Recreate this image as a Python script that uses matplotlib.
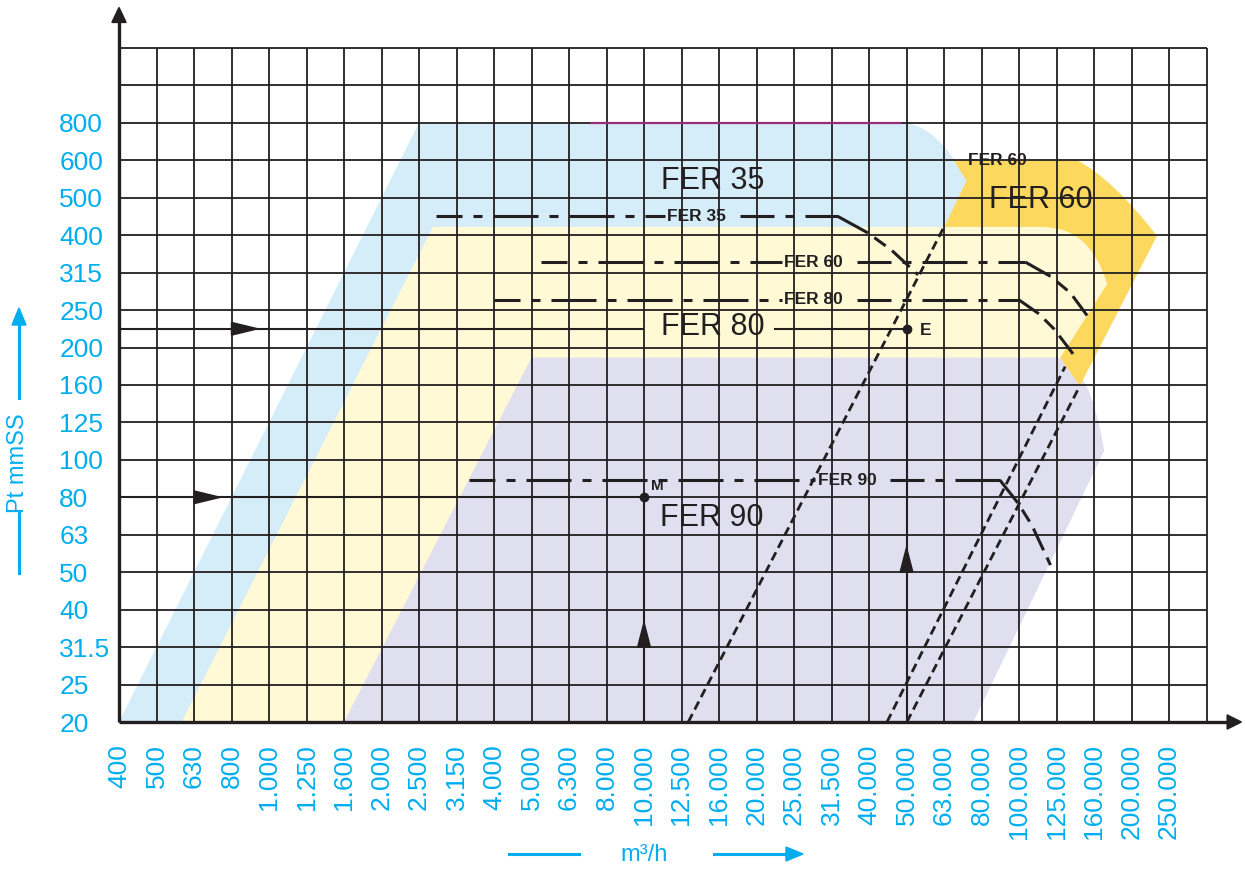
import matplotlib
matplotlib.use('Agg')
import matplotlib.pyplot as plt
from matplotlib.path import Path
from matplotlib.patches import PathPatch, Polygon
from matplotlib.lines import Line2D

plt.rcParams['font.family'] = ['Liberation Sans', 'DejaVu Sans']
plt.rcParams['lines.scale_dashes'] = False

# ---------------- data (grid-class coordinates) ----------------
x_labels = ['400', '500', '630', '800', '1.000', '1.250', '1.600', '2.000', '2.500',
            '3.150', '4.000', '5.000', '6.300', '8.000', '10.000', '12.500', '16.000',
            '20.000', '25.000', '31.500', '40.000', '50.000', '63.000', '80.000',
            '100.000', '125.000', '160.000', '200.000', '250.000']
y_labels = ['20', '25', '31.5', '40', '50', '63', '80', '100', '125', '160', '200',
            '250', '315', '400', '500', '600', '800']

# working areas: ('L', x, y) line-to, ('Q', cx, cy, x, y) curve-to
fer35_area = [('L', 0, 0), ('L', 8, 16), ('L', 20.84, 16), ('Q', 21.8, 16, 22.6, 14.45),
              ('L', 22.0, 13.22), ('L', 1.63, 0)]
fer80_area = [('L', 1.67, 0), ('L', 8.37, 13.22), ('L', 24.62, 13.22),
              ('Q', 25.9, 13.22, 26.35, 11.69), ('L', 25.1, 9.73), ('L', 6.0, 0)]
fer90_area = [('L', 6.0, 0), ('L', 11.0, 9.73), ('L', 25.0, 9.73),
              ('Q', 25.9, 9.6, 26.27, 7.24), ('L', 22.78, 0)]
fer60_area = [('L', 22.26, 15.0), ('L', 25.55, 15.0), ('Q', 26.5, 14.5, 27.68, 12.98),
              ('L', 25.62, 8.97), ('L', 25.1, 9.73), ('L', 26.35, 11.69),
              ('Q', 25.9, 13.22, 24.62, 13.22), ('L', 22.0, 13.22), ('L', 22.6, 14.45)]

# fan curves
curve_names = ['FER 35', 'FER 60', 'FER 80', 'FER 90']
curve_y = [13.5, 12.28, 11.27, 6.46]
curve_x_start = [8.45, 11.25, 10.0, 9.33]
curve_x_bend = [19.17, 24.17, 24.0, 23.49]
curve_knee = [(19.97, 13.06), (24.84, 11.9), (24.53, 10.9), (23.97, 5.85)]
curve_mid = [(20.6, 12.6), (25.37, 11.46), (24.93, 10.5), (24.34, 5.26)]
curve_end = [(21.31, 11.94), (25.9, 10.74), (25.44, 9.83), (24.84, 4.19)]
curve_label_x = [15.41, 18.53, 18.53, 19.41]

# system (duct) lines
system_start = [(15.18, 0), (20.48, 0), (21.01, 0)]
system_end = [(22.0, 13.22), (25.23, 9.49), (25.62, 8.97)]

# operating points
point_names = ['E', 'M']
point_x = [21, 14]
point_y = [10.5, 6]
point_harrow_x = [3, 2]
point_varrow_y = [4, 2]

# big area labels
area_names = ['FER 35', 'FER 60', 'FER 80', 'FER 90']
area_label_x = [15.84, 24.59, 15.83, 15.81]
area_label_y = [14.45, 13.95, 10.55, 5.46]

# ---------------- styles ----------------
INK = '#231f20'
BLUE = '#00aeef'
C35 = '#d5ecf9'
C80 = '#fffad5'
C90 = '#dfdff0'
C60 = '#fcd85e'
PX = 0.72  # points per pixel


def area_path(spec):
    verts, codes = [], []
    for i, s in enumerate(spec):
        if s[0] == 'L':
            verts.append((s[1], s[2]))
            codes.append(Path.MOVETO if i == 0 else Path.LINETO)
        else:
            verts += [(s[1], s[2]), (s[3], s[4])]
            codes += [Path.CURVE3, Path.CURVE3]
    verts.append(verts[0])
    codes.append(Path.CLOSEPOLY)
    return Path(verts, codes)


fig = plt.figure(figsize=(12.45, 8.71), dpi=100)
ax = fig.add_axes([119 / 1245, 149 / 871, 1126 / 1245, 722 / 871])
ax.set_xlim(0, 1126 / 37.5)
ax.set_ylim(0, 722 / 37.45)
for s in ax.spines.values():
    s.set_visible(False)

ax.set_xticks(range(len(x_labels)), x_labels, rotation=90, va='top', ha='center',
              fontsize=19, color=BLUE)
ax.set_yticks(range(len(y_labels)), y_labels, ha='left', fontsize=19, color=BLUE)
ax.tick_params(axis='x', length=0, pad=16)
ax.tick_params(axis='y', length=0, pad=43)

# areas
for spec, col in [(fer35_area, C35), (fer80_area, C80), (fer90_area, C90), (fer60_area, C60)]:
    ax.add_patch(PathPatch(area_path(spec), facecolor=col, edgecolor='none', zorder=1))

# grid
ncols = len(x_labels) + 1
nrows = len(y_labels) + 2
ax.vlines(range(ncols), 0, nrows - 1, color=INK, lw=1.3, zorder=2)
ax.hlines(range(nrows), 0, ncols - 1, color=INK, lw=1.3, zorder=2)
ax.hlines(len(y_labels) - 1, 12.56, 20.84, color='#9a2a7a', lw=1.6, zorder=2.1)

# axes with arrows
ax.plot([0, 0], [0, 18.75], color=INK, lw=2.4, zorder=3, clip_on=False, solid_capstyle='butt')
ax.plot([0, 29.6], [0, 0], color=INK, lw=2.4, zorder=3, clip_on=False, solid_capstyle='butt')
ax.add_patch(Polygon([(-0.19, 18.68), (0.19, 18.68), (0, 19.08)], closed=True,
                     color=INK, zorder=3, clip_on=False))
ax.add_patch(Polygon([(29.55, 0.19), (29.55, -0.19), (29.93, 0)], closed=True,
                     color=INK, zorder=3, clip_on=False))

# system lines
for (x0, y0), (x1, y1) in zip(system_start, system_end):
    ax.plot([x0, x1], [y0, y1], color=INK, lw=2.0, zorder=3,
            linestyle=(0, (9 * PX, 5 * PX)))

# fan curves
dashdot = (45 * PX, 11 * PX, 9 * PX, 11 * PX)
tail = (24 * PX, 8 * PX, 14 * PX, 8 * PX)
for i, name in enumerate(curve_names):
    y = curve_y[i]
    lx = curve_label_x[i]
    ax.plot([curve_x_start[i], lx - 0.85], [y, y], color=INK, lw=2.2, zorder=3,
            linestyle=(19 * PX, dashdot))
    ax.plot([lx + 1.15, curve_x_bend[i]], [y, y], color=INK, lw=2.2, zorder=3,
            linestyle=(11 * PX, dashdot))
    kx, ky = curve_knee[i]
    ax.plot([curve_x_bend[i], kx], [y, ky], color=INK, lw=2.2, zorder=3,
            solid_capstyle='butt')
    ax.plot([kx, curve_mid[i][0], curve_end[i][0]], [ky, curve_mid[i][1], curve_end[i][1]],
            color=INK, lw=2.2, zorder=3, linestyle=(24 * PX, tail))
    ax.text(lx, y, name, ha='center', va='center', fontsize=12.5, fontweight='bold',
            color=INK, zorder=4)

# top FER 60 small label
ax.text(23.41, 14.98, 'FER 60', ha='center', va='center', fontsize=12.5,
        fontweight='bold', color=INK, zorder=4)

# big area labels
for name, x, y in zip(area_names, area_label_x, area_label_y):
    ax.text(x, y, name, ha='center', va='center', fontsize=22, color=INK, zorder=4)

# operating points
for i, name in enumerate(point_names):
    px, py = point_x[i], point_y[i]
    if name == 'E':
        gx = area_label_x[2]
        ax.plot([0, gx - 1.86], [py, py], color=INK, lw=1.5, zorder=3)
        ax.plot([gx + 1.66, px], [py, py], color=INK, lw=1.5, zorder=3)
    else:
        ax.plot([0, px], [py, py], color=INK, lw=1.5, zorder=3)
    ax.plot([px, px], [0, py], color=INK, lw=1.5, zorder=3)
    ax.plot([px], [py], 'o', color=INK, ms=6, zorder=4)
    hx = point_harrow_x[i]
    ax.add_patch(Polygon([(hx, py + 0.17), (hx, py - 0.17), (hx + 0.7, py)], closed=True,
                         color=INK, zorder=4))
    vy = point_varrow_y[i]
    ax.add_patch(Polygon([(px - 0.17, vy), (px + 0.17, vy), (px, vy + 0.66)], closed=True,
                         color=INK, zorder=4))

ax.text(point_x[0] + 0.52, point_y[0] - 0.05, 'E', ha='center', va='center',
        fontsize=12.5, fontweight='bold', color=INK, zorder=4)
ax.text(point_x[1] + 0.35, point_y[1] + 0.3, 'M', ha='center', va='center',
        fontsize=11, fontweight='bold', color=INK, zorder=4)

# axis titles
fig.text(18 / 1245, (871 - 463) / 871, 'Pt mmSS', rotation=90, ha='center', va='center',
         color=BLUE, fontsize=17)
fig.add_artist(Line2D([19 / 1245, 19 / 1245], [(871 - 573) / 871, (871 - 513) / 871],
                      transform=fig.transFigure, color=BLUE, lw=2.2))
fig.add_artist(Line2D([19 / 1245, 19 / 1245], [(871 - 398) / 871, (871 - 325) / 871],
                      transform=fig.transFigure, color=BLUE, lw=2.2))
fig.add_artist(Polygon([(12 / 1245, (871 - 325) / 871), (26 / 1245, (871 - 325) / 871),
                        (19 / 1245, (871 - 308) / 871)], closed=True,
                       transform=fig.transFigure, color=BLUE))

fig.text(644 / 1245, (871 - 855) / 871, 'm³/h', ha='center', va='center',
         color=BLUE, fontsize=17)
fig.add_artist(Line2D([509 / 1245, 579 / 1245], [(871 - 854) / 871] * 2,
                      transform=fig.transFigure, color=BLUE, lw=2.2))
fig.add_artist(Line2D([714 / 1245, 788 / 1245], [(871 - 854) / 871] * 2,
                      transform=fig.transFigure, color=BLUE, lw=2.2))
fig.add_artist(Polygon([(786 / 1245, (871 - 847) / 871), (786 / 1245, (871 - 861) / 871),
                        (803 / 1245, (871 - 854) / 871)], closed=True,
                       transform=fig.transFigure, color=BLUE))

fig.savefig('out.png', dpi=100)
